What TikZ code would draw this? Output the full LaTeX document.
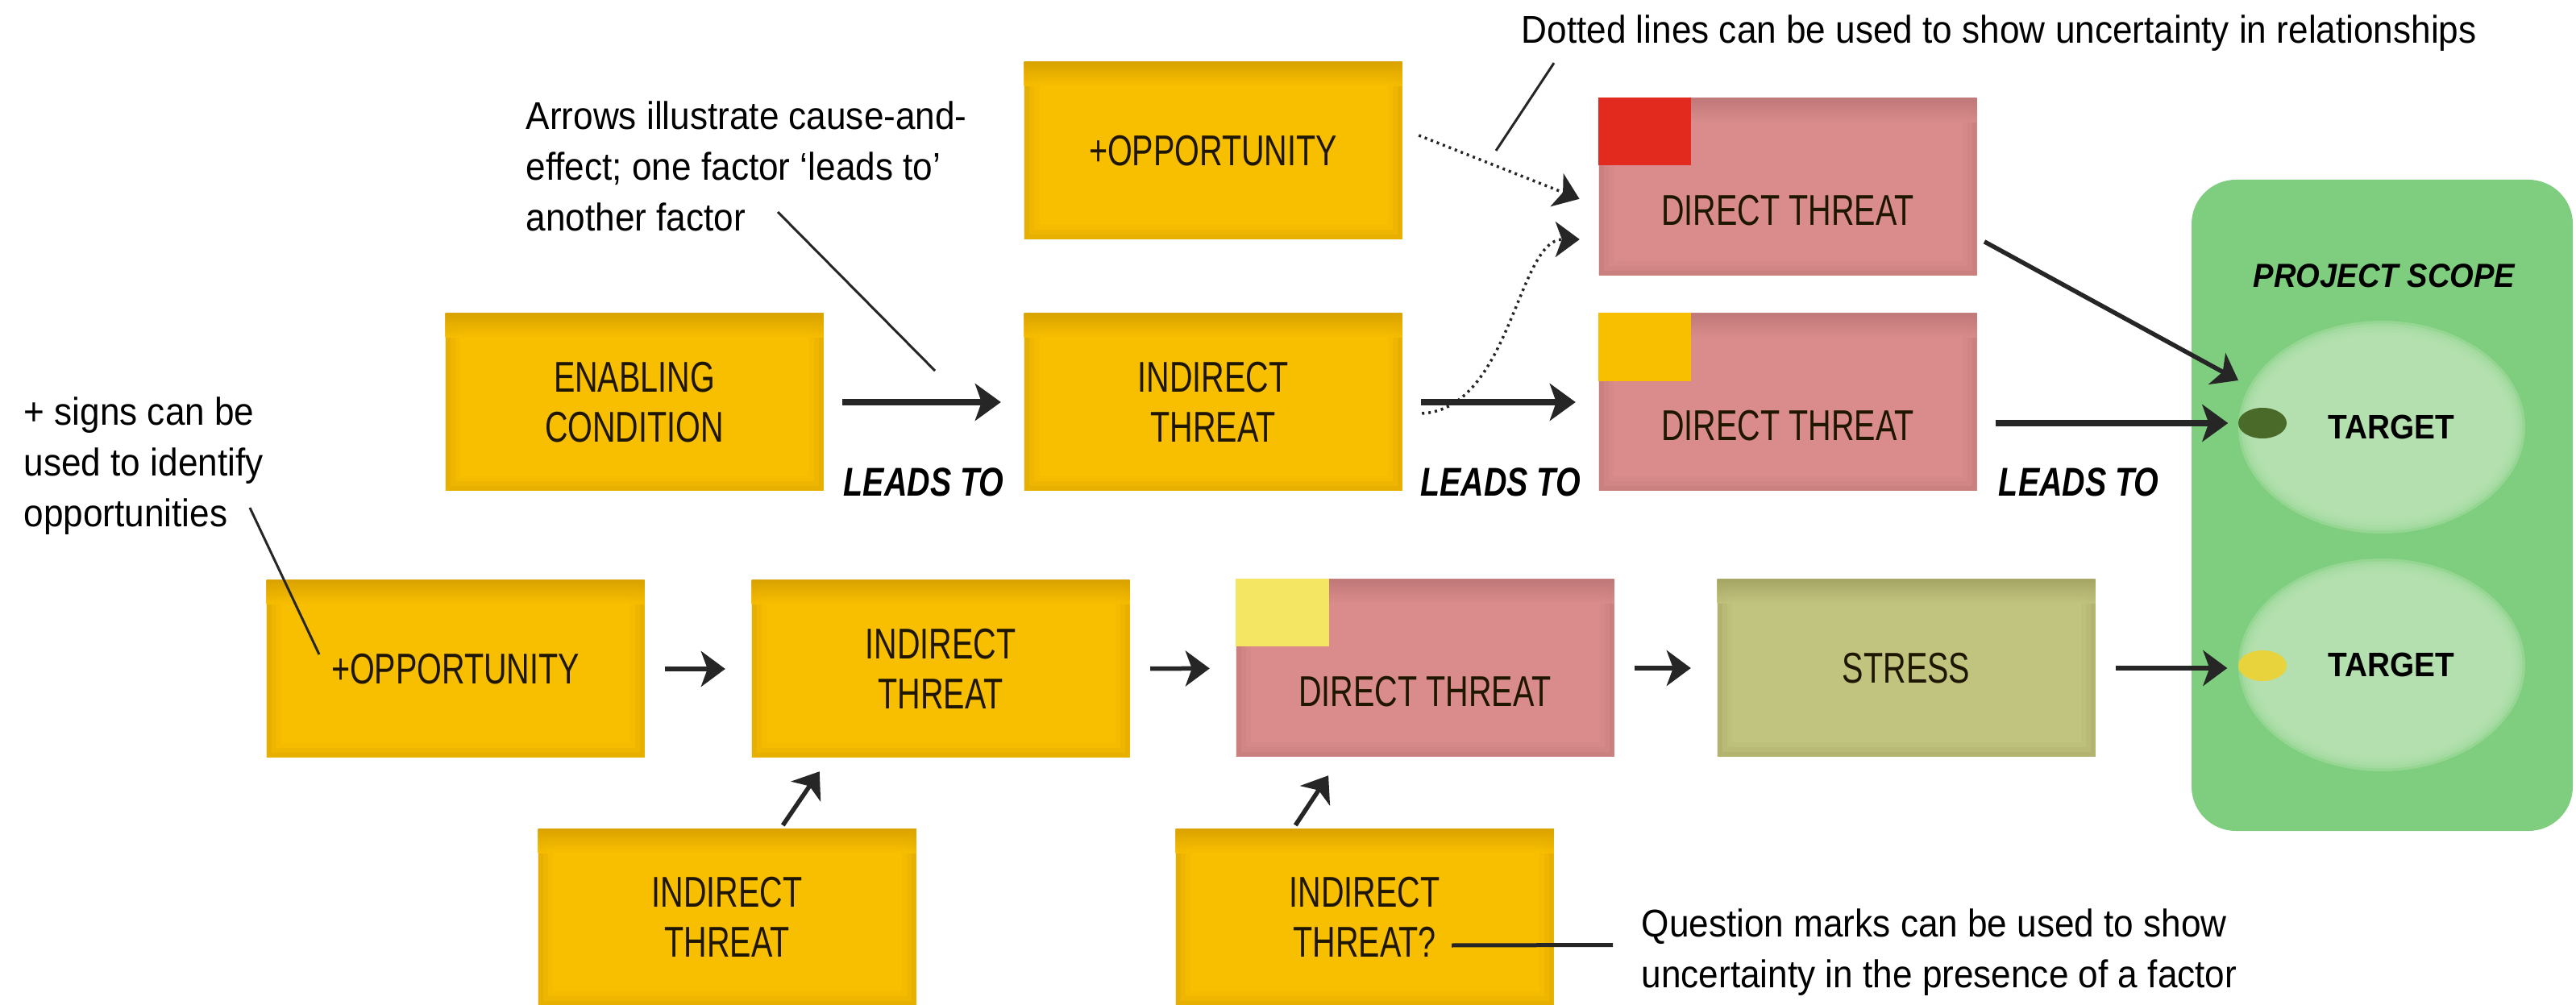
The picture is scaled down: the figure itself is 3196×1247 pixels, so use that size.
\documentclass[tikz,border=0pt]{standalone}
\usepackage{fontspec}
\setmainfont{Liberation Sans}
\newfontfamily\boxfont[FakeStretch=0.74]{Liberation Sans}
\newfontfamily\notefont[FakeStretch=0.92]{Liberation Sans}
\newfontfamily\leadfont[FakeStretch=0.79]{Liberation Sans}
\newfontfamily\scopefont[FakeStretch=0.92]{Liberation Sans}
\usetikzlibrary{arrows.meta,shapes.geometric}

\definecolor{yelbase}{HTML}{F8BF00}
\definecolor{yeledge}{HTML}{D8A100}
\definecolor{pinkbase}{HTML}{DA8C8C}
\definecolor{pinkedge}{HTML}{BF7777}
\definecolor{olivebase}{HTML}{C1C47E}
\definecolor{oliveedge}{HTML}{A4A463}
\definecolor{redcorner}{HTML}{E22A1F}
\definecolor{palecorner}{HTML}{F4E563}
\definecolor{scopegreen}{HTML}{7FCE7F}
\definecolor{targetfill}{HTML}{B6E2B1}
\definecolor{darkdot}{HTML}{4A6A2A}
\definecolor{yellowdot}{HTML}{E9D33C}
\definecolor{ink}{HTML}{262626}
\definecolor{boxink}{HTML}{1E1600}

% darker rim of a factor box: #1 fill, #2 rim
\newcommand{\boxedges}[2]{%
  \foreach \w/\o in {3.6mm/0.12, 2.4mm/0.18, 1.2mm/0.3}
    \draw[#2, line width=\w, opacity=\o] (path picture bounding box.south west) rectangle (path picture bounding box.north east);
  \shade[top color=#2, bottom color=#1, opacity=0.85] (path picture bounding box.north west) rectangle ([yshift=-3mm]path picture bounding box.north east);
}

\tikzset{
  factor/.style 2 args={rectangle, minimum width=46.9mm, minimum height=22mm, inner sep=0pt,
    fill=#1, path picture={\boxedges{#1}{#2}}, align=center, text=boxink,
    font={\boxfont\fontsize{15.2}{17.8}\selectfont}},
  yellowbox/.style={factor={yelbase}{yeledge}},
  pinkbox/.style={factor={pinkbase}{pinkedge}},
  stressbox/.style={factor={olivebase}{oliveedge}},
  lowered/.style={text height=9.6mm, text depth=0pt},
  note/.style={anchor=north west, inner sep=0pt, align=left, text=black,
    font={\notefont\fontsize{13.65}{17.9}\selectfont}},
  leadlabel/.style={inner sep=0pt, anchor=north,
    font={\leadfont\bfseries\itshape\fontsize{14.2}{16}\selectfont}},
  scopetitle/.style={inner sep=0pt, font={\scopefont\bfseries\itshape\fontsize{11.8}{13}\selectfont}},
  targetlabel/.style={inner sep=0pt, font={\scopefont\bfseries\fontsize{12}{13}\selectfont}},
  dot/.style={ellipse, inner sep=0pt, minimum width=6mm, minimum height=3.8mm},
  leads/.style={draw=ink, line width=0.75mm, -{Stealth[length=3.2mm, width=4.6mm, inset=0.8mm]},
    shorten <=2.3mm, shorten >=2.8mm},
  leadsthin/.style={draw=ink, line width=0.55mm, -{Stealth[length=3mm, width=4.4mm, inset=0.8mm]},
    shorten <=2.5mm, shorten >=3.2mm},
  uncertain/.style={draw=ink, line width=0.35mm, dash pattern=on 0.3mm off 0.5mm,
    -{Stealth[length=3mm, width=4.4mm, inset=0.8mm]}},
  leader/.style={draw=ink, line width=0.3mm},
  qline/.style={draw=ink, line width=0.5mm}
}

\begin{document}
\begin{tikzpicture}[x=0.1mm, y=-0.1mm]
  \useasboundingbox (0,0) rectangle (3196,1247);

  % project scope and its targets
  \fill[scopegreen, rounded corners=5.5mm] (2719,223) rectangle (3192,1031);
  \node[scopetitle] (scope) at (2958,342) {PROJECT SCOPE};
  \foreach \ty/\nm in {530/tgtA, 825/tgtB} {
    \foreach \k in {0,...,5}
      \fill[targetfill, opacity=0.4] (2955,\ty) ellipse [x radius={17.8mm-\k*0.35mm}, y radius={13.2mm-\k*0.35mm}];
    \node[targetlabel] (\nm) at (2967,\ty) {TARGET};
  }
  \node[dot, fill=darkdot] (dotA) at (2807,525) {};
  \node[dot, fill=yellowdot] (dotB) at (2807,826) {};

  % factors
  \node[yellowbox] (oppA) at (1505,187) {+OPPORTUNITY};
  \node[pinkbox, lowered] (dtA) at (2218,232) {DIRECT THREAT};
  \fill[redcorner] (dtA.north west) rectangle ++(11.5mm,-8.4mm);

  \node[yellowbox] (enab) at (787,499) {ENABLING\\CONDITION};
  \node[yellowbox] (indA) at (1505,499) {INDIRECT\\THREAT};
  \node[pinkbox, lowered] (dtB) at (2218,499) {DIRECT THREAT};
  \fill[yelbase] (dtB.north west) rectangle ++(11.5mm,-8.5mm);

  \node[yellowbox] (oppB) at (565,830) {+OPPORTUNITY};
  \node[yellowbox] (indB) at (1167,830) {INDIRECT\\THREAT};
  \node[pinkbox, lowered] (dtC) at (1768,829) {DIRECT THREAT};
  \fill[palecorner] (dtC.north west) rectangle ++(11.6mm,-8.4mm);
  \node[stressbox] (stress) at (2365,829) {STRESS};

  \node[yellowbox] (indC) at (902,1138) {INDIRECT\\THREAT};
  \node[yellowbox] (indD) at (1693,1138) {INDIRECT\\THREAT?};

  % chain with labels
  \draw[leads] (enab) -- node[leadlabel, below=7.8mm] {LEADS TO} (indA);
  \draw[leads] (indA) -- node[leadlabel, below=7.8mm] {LEADS TO} (dtB);
  \draw[leads, shorten >=1.2mm] (dtB.east |- dotA.west) -- node[leadlabel, pos=0.39, below=5.2mm] {LEADS TO} (dotA.west);
  \coordinate (hitA) at (2777,472);
  \draw[leadsthin, shorten <=1mm, shorten >=0pt] (dtA.-15) -- (hitA);

  % uncertain links
  \draw[uncertain, shorten >=2.5mm] ([shift={(2mm,1.9mm)}]oppA.east) -- ([yshift=-2.4mm]dtA.west);
  \draw[uncertain, shorten >=2.3mm] ([shift={(2.4mm,-1.4mm)}]indA.east)
    .. controls +(11mm,0.6mm) and +(-10mm,0mm) .. ([yshift=-6.5mm]dtA.west);

  % lower chain
  \draw[leadsthin] (oppB) -- (indB);
  \draw[leadsthin] (indB) -- (dtC);
  \draw[leadsthin] (dtC) -- (stress);
  \draw[leadsthin, shorten >=1.3mm] (stress) -- (stress.east -| dotB.west);
  \draw[leadsthin, shorten <=0.4mm, shorten >=2mm] ([xshift=6.7mm]indC.north) -- ([xshift=-13.9mm]indB.south);
  \draw[leadsthin, shorten <=0.4mm, shorten >=2.7mm] ([xshift=-8.8mm]indD.north) -- ([xshift=-10.5mm]dtC.south);

  % notes
  \node[note] (notedot) at (1887,18) {Dotted lines can be used to show uncertainty in relationships};
  \coordinate (dotpt) at (1856,187);
  \draw[leader] ([shift={(4.1mm,-1.4mm)}]notedot.south west) -- (dotpt);

  \node[note] (notearrow) at (652,125) {Arrows illustrate cause-and-\\effect; one factor ‘leads to’\\another factor};
  \coordinate (arrowpt) at (1160,460);
  \draw[leader] ([shift={(31.3mm,-13.8mm)}]notearrow.north west) -- (arrowpt);

  \node[note] (noteplus) at (29,492) {+ signs can be\\used to identify\\opportunities};
  \coordinate (pluspt) at (396,812);
  \draw[leader] ([shift={(28.1mm,-13.8mm)}]noteplus.north west) -- (pluspt);

  \node[note] (noteq) at (2036,1127) {Question marks can be used to show\\uncertainty in the presence of a factor};
  \coordinate (qpt) at (1801,1173);
  \draw[qline] (qpt) -- ([shift={(-3.5mm,0.9mm)}]noteq.west);
\end{tikzpicture}
\end{document}
